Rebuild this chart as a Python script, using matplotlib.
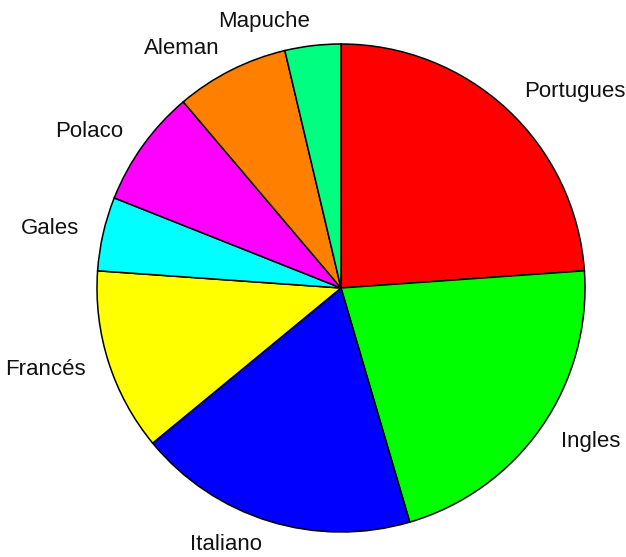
import matplotlib
matplotlib.use('Agg')
import matplotlib.pyplot as plt

# slices, clockwise from 12 o'clock (values read as share of the circle, %)
idiomas = ['Portugues', 'Ingles', 'Italiano', 'Francés', 'Gales', 'Polaco', 'Aleman', 'Mapuche']
valores = [23.9, 21.6, 18.6, 12.1, 4.9, 7.8, 7.5, 3.7]
colores = ['#FF0000', '#00FF00', '#0000FF', '#FFFF00', '#00FFFF', '#FF00FF', '#FF8000', '#00FF80']

plt.rcParams['font.family'] = ['Liberation Sans', 'DejaVu Sans']

fig = plt.figure(figsize=(6.26, 5.57), dpi=100)
ax = fig.add_axes([0, 0, 1, 1])

ax.pie(valores, labels=idiomas, colors=colores, startangle=90, counterclock=False,
       labeldistance=1.1, radius=1.0,
       wedgeprops={'edgecolor': 'black', 'linewidth': 1.1},
       textprops={'fontsize': 16, 'color': '#111111'})

# center of pie at (341, 288) px, radius 244 px
ax.set_aspect('auto')
ax.set_xlim(-341 / 244, (626 - 341) / 244)
ax.set_ylim(-(557 - 288) / 244, 288 / 244)
ax.axis('off')

fig.savefig('out.png', dpi=100, facecolor='white')
